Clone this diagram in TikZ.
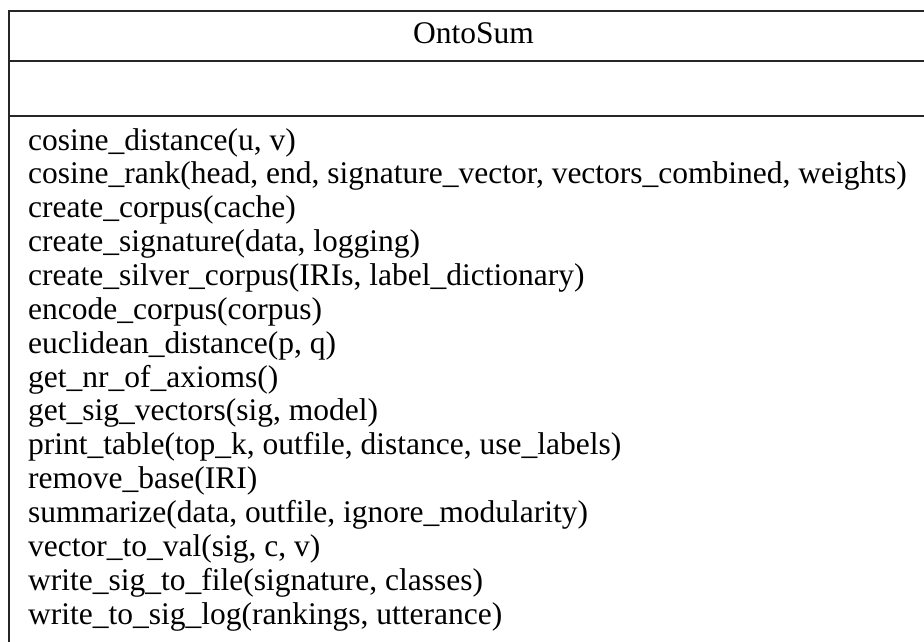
\documentclass[tikz,border=0pt]{standalone}
\usepackage{fontspec}
\setmainfont{Liberation Serif}
\begin{document}
\begin{tikzpicture}[x=1pt,y=-1pt,
  boxline/.style={line width=1.8pt,draw=black!85},
  classtitle/.style={anchor=base,inner sep=0pt,font=\fontsize{31.5}{34}\selectfont},
  method/.style={anchor=base west,inner sep=0pt,font=\fontsize{31.5}{34}\selectfont}]
\useasboundingbox (0,0) rectangle (924,641);
\begin{scope}
\clip (0,0) rectangle (924,641);
\draw[boxline] (9,660) -- (9,11) -- (960,11);
\draw[boxline] (9,61) -- (960,61);
\draw[boxline] (9,116) -- (960,116);
\end{scope}
\node[classtitle] (title) at (473.5,43) {OntoSum};
\foreach \t [count=\i from 0] in {
  cosine\_distance(u{,} v),
  cosine\_rank(head{,} end{,} signature\_vector{,} vectors\_combined{,} weights),
  create\_corpus(cache),
  create\_signature(data{,} logging),
  create\_silver\_corpus(IRIs{,} label\_dictionary),
  encode\_corpus(corpus),
  euclidean\_distance(p{,} q),
  get\_nr\_of\_axioms(),
  get\_sig\_vectors(sig{,} model),
  print\_table(top\_k{,} outfile{,} distance{,} use\_labels),
  remove\_base(IRI),
  summarize(data{,} outfile{,} ignore\_modularity),
  vector\_to\_val(sig{,} c{,} v),
  write\_sig\_to\_file(signature{,} classes),
  write\_to\_sig\_log(rankings{,} utterance)}
{
  \node[method] (m\i) at (28,150+33.86*\i) {\t};
}
\end{tikzpicture}
\end{document}
